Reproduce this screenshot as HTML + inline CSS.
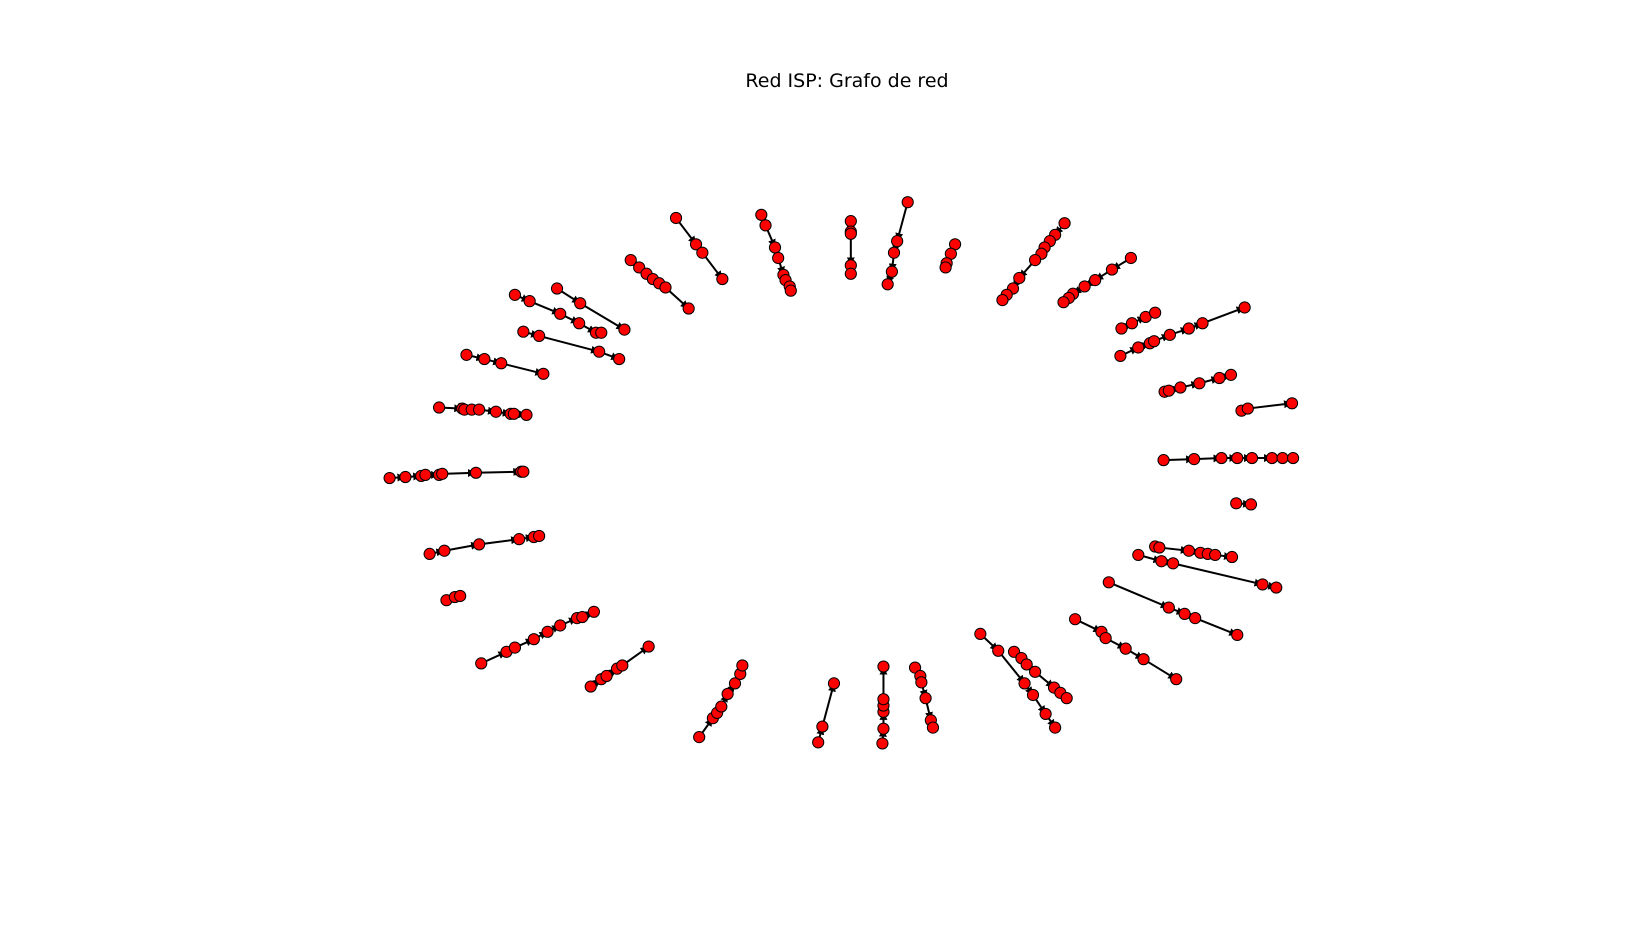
<!DOCTYPE html>
<html><head><meta charset="utf-8"><style>
html,body{margin:0;padding:0;background:#fff;}
svg{display:block;}
</style></head><body>
<svg id="chart" width="1647" height="944" viewBox="0 0 1647 944">
<defs><marker id="arr" viewBox="0 0 10 10" refX="10" refY="5" markerWidth="4" markerHeight="4" orient="auto"><path d="M0,0 L10,5 L0,10 z" fill="#000"/></marker></defs>
<text x="847" y="87" text-anchor="middle" font-family="DejaVu Sans, Liberation Sans, sans-serif" font-size="19">Red ISP: Grafo de red</text>
<g id="edges"></g>
<g id="nodes"></g>
</svg>
<script>
// Node layout coordinates per chain (x values, y values)
const chainX = [
[642,661,667,686],
[723,727,736,739,744,746,750,751],
[808,808,808,808,808],
[862,852,849,847,843],
[907,903,899,898],
[1011,1002,997,992,989,983,968,962,956,952],
[1074,1056,1040,1030,1019,1015,1010],
[599,607,614,620,626,632,654],
[489,503,532,550,566,571],
[529,551,593],
[497,512,569,588],
[443,460,476,516],
[417,439,441,448,455,471,485,488,500],
[370,385,400,404,417,420,452,495,497],
[408,422,455,493,507,512],
[424,432,437],
[457,481,489,507,520,532,548,553,564],
[561,571,576,586,591,616],
[664,677,681,685,691,698,703,705],
[777,781,792],
[838,839,839,839,839,839],
[869,874,875,879,884,886],
[931,948,973,981,993,1002],
[963,970,975,983,1001,1007,1013],
[1021,1046,1050,1069,1086,1117],
[1053,1110,1125,1135,1175],
[1081,1103,1114,1199,1212],
[1097,1101,1129,1140,1147,1154,1170],
[1174,1188],
[1105,1134,1160,1175,1189,1208,1218,1228],
[1179,1185,1227],
[1106,1110,1121,1139,1158,1169],
[1064,1081,1092,1096,1111,1129,1142,1182],
[1065,1075,1088,1097]
];
const chainY = [
[207,232,240,265],
[204,214,235,245,261,266,272,276],
[210,220,222,252,260],
[192,229,240,258,270],
[232,241,250,254],
[212,223,229,235,241,247,264,274,280,285],
[245,256,266,272,279,283,287],
[247,254,260,265,269,273,293],
[280,286,298,307,316,316],
[274,288,313],
[315,319,334,341],
[337,341,345,355],
[387,388,389,389,389,391,393,393,394],
[454,453,452,451,451,450,449,448,448],
[526,523,517,512,510,509],
[570,567,566],
[630,619,615,607,600,594,587,586,581],
[652,645,642,635,632,614],
[700,682,677,671,659,649,640,632],
[705,690,649],
[706,692,676,670,664,633],
[634,642,648,663,684,691],
[602,618,649,660,678,691],
[619,625,631,638,653,658,663],
[588,600,606,616,626,645],
[553,577,583,587,603],
[527,533,535,555,558],
[519,520,523,525,526,527,529],
[478,479],
[437,436,435,435,435,435,435,435],
[390,388,383],
[372,371,368,364,359,356],
[338,330,326,324,318,312,307,292],
[312,307,301,297]
];
const xScale = v => v * 1.053;
const yScale = v => v * 1.053;
const NS = "http://www.w3.org/2000/svg";
const eg = document.getElementById('edges'), ng = document.getElementById('nodes');
chainX.forEach((xs, c) => {
  const ys = chainY[c];
  for (let i = 0; i < xs.length - 1; i++) {
    const l = document.createElementNS(NS, 'line');
    l.setAttribute('x1', xScale(xs[i])); l.setAttribute('y1', yScale(ys[i]));
    l.setAttribute('x2', xScale(xs[i+1])); l.setAttribute('y2', yScale(ys[i+1]));
    l.setAttribute('stroke', '#000'); l.setAttribute('stroke-width', '2');
    l.setAttribute('marker-end', 'url(#arr)');
    
    
    eg.appendChild(l);
  }
  for (let i = 0; i < xs.length; i++) {
    const n = document.createElementNS(NS, 'circle');
    n.setAttribute('cx', xScale(xs[i])); n.setAttribute('cy', yScale(ys[i]));
    n.setAttribute('r', '5.6'); n.setAttribute('fill', '#ff0000');
    n.setAttribute('stroke', '#000'); n.setAttribute('stroke-width', '1');
    
    
    ng.appendChild(n);
  }
});
</script>
</body></html>
